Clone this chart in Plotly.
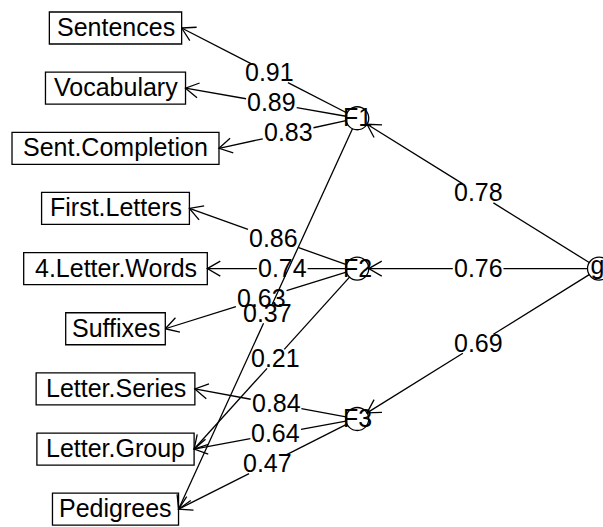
import math
import plotly.graph_objects as go

# ---------------- data ----------------
variables = ["Sentences", "Vocabulary", "Sent.Completion", "First.Letters",
             "4.Letter.Words", "Suffixes", "Letter.Series", "Letter.Group", "Pedigrees"]
factors = ["F1", "F2", "F3"]
general = "g"
g_loadings = [0.78, 0.76, 0.69]
edge_factor = ["F1", "F1", "F1", "F2", "F2", "F2", "F3", "F3", "F3", "F1", "F2"]
edge_variable = ["Sentences", "Vocabulary", "Sent.Completion", "First.Letters",
                 "4.Letter.Words", "Suffixes", "Letter.Series", "Letter.Group",
                 "Pedigrees", "Pedigrees", "Letter.Group"]
edge_loading = [0.91, 0.89, 0.83, 0.86, 0.74, 0.63, 0.84, 0.64, 0.47, 0.37, 0.21]

# ---------------- style / layout ----------------
W, H = 603, 527
FONT = "Liberation Sans, Arial, Helvetica, sans-serif"
FS = 25
LW = 1.3
R = 11.5
BOX_H = 32
HEAD = 15
TEXT_DY = 1

AW = {' ': 278, '.': 278, '0': 556, '1': 556, '2': 556, '3': 556, '4': 556, '5': 556,
      '6': 556, '7': 556, '8': 556, '9': 556, 'A': 667, 'B': 667, 'C': 722, 'D': 722,
      'E': 667, 'F': 611, 'G': 778, 'H': 722, 'I': 278, 'J': 500, 'K': 667, 'L': 556,
      'M': 833, 'N': 722, 'O': 778, 'P': 667, 'Q': 778, 'R': 722, 'S': 667, 'T': 611,
      'U': 722, 'V': 667, 'W': 944, 'X': 667, 'Y': 667, 'Z': 611, 'a': 556, 'b': 556,
      'c': 500, 'd': 556, 'e': 556, 'f': 278, 'g': 556, 'h': 556, 'i': 222, 'j': 222,
      'k': 500, 'l': 222, 'm': 833, 'n': 556, 'o': 556, 'p': 556, 'q': 556, 'r': 333,
      's': 500, 't': 278, 'u': 556, 'v': 500, 'w': 722, 'x': 500, 'y': 500, 'z': 500}


def text_width(s):
    return sum(AW.get(c, 556) for c in s) / 1000.0 * FS


n_var = len(variables)
n_f = len(factors)
ROW0, ROWSTEP = 28.0, 60.15
COL0, COLSTEP = 115.5, 241.75


def row_to_y(u):
    return ROW0 + (n_var - u) * ROWSTEP


var_pos = {v: (COL0, row_to_y(n_var - i)) for i, v in enumerate(variables)}
var_hw = {v: 0.56 * text_width(v) for v in variables}
f_scale = (n_var + 1) / (n_f + 1)
fac_pos = {f: (COL0 + COLSTEP, row_to_y(n_var + 1 - (j + 1) * f_scale))
           for j, f in enumerate(factors)}
g_pos = (COL0 + 2 * COLSTEP, row_to_y((n_var + 1) / 2))

xs, ys = [], []
annotations = []
shapes = []


def add_path(pts):
    for p in pts:
        xs.append(p[0])
        ys.append(p[1])
    xs.append(None)
    ys.append(None)


def unit(a, b):
    dx, dy = b[0] - a[0], b[1] - a[1]
    d = math.hypot(dx, dy)
    return dx / d, dy / d


def add_text(x, y, s):
    annotations.append(dict(x=x, y=y, xref="x", yref="y", text=s, showarrow=False,
                            xanchor="center", yanchor="middle", yshift=TEXT_DY,
                            font=dict(family=FONT, size=FS, color="black")))


def arrow(start, end, lab_c, lab):
    d = unit(start, end)
    hw = text_width(lab) / 2 + 1
    hh = 9.5
    cand = []
    if abs(d[0]) > 1e-9:
        cand.append(hw / abs(d[0]))
    if abs(d[1]) > 1e-9:
        cand.append(hh / abs(d[1]))
    s = min(cand)
    p1 = (lab_c[0] - s * d[0], lab_c[1] - s * d[1])
    p2 = (lab_c[0] + s * d[0], lab_c[1] + s * d[1])
    add_path([start, p1])
    add_path([p2, end])
    bx, by = -d[0], -d[1]
    wings = []
    for ang in (math.radians(30), math.radians(-30)):
        c, sn = math.cos(ang), math.sin(ang)
        wings.append((end[0] + HEAD * (bx * c - by * sn), end[1] + HEAD * (bx * sn + by * c)))
    add_path([wings[0], end, wings[1]])
    add_text(lab_c[0], lab_c[1], lab)


# factor -> variable loadings
for f, v, l in zip(edge_factor, edge_variable, edge_loading):
    fc = fac_pos[f]
    vx, vy = var_pos[v]
    end = (vx + var_hw[v], vy)
    u = unit(fc, end)
    start = (fc[0] + R * u[0], fc[1] + R * u[1])
    mid = ((fc[0] + end[0]) / 2, (fc[1] + end[1]) / 2)
    arrow(start, end, mid, "%.2f" % l)

# g -> factor loadings
for f, l in zip(factors, g_loadings):
    fc = fac_pos[f]
    u = unit(g_pos, fc)
    start = (g_pos[0] + R * u[0], g_pos[1] + R * u[1])
    end = (fc[0] - R * u[0], fc[1] - R * u[1])
    mid = ((fc[0] + g_pos[0]) / 2, (fc[1] + g_pos[1]) / 2)
    arrow(start, end, mid, "%.2f" % l)

# variable boxes
for v in variables:
    x, y = var_pos[v]
    hw = var_hw[v]
    shapes.append(dict(type="rect", xref="x", yref="y", x0=x - hw, x1=x + hw,
                       y0=y - BOX_H / 2, y1=y + BOX_H / 2,
                       line=dict(color="black", width=LW), fillcolor="rgba(0,0,0,0)"))
    add_text(x, y, v)

# factor circles
for f in factors + [general]:
    x, y = fac_pos[f] if f in fac_pos else g_pos
    shapes.append(dict(type="circle", xref="x", yref="y", x0=x - R, x1=x + R,
                       y0=y - R, y1=y + R,
                       line=dict(color="black", width=LW), fillcolor="rgba(0,0,0,0)"))
    if f in fac_pos:
        add_text(x, y, f)

fig = go.Figure()
fig.add_trace(go.Scatter(x=xs, y=ys, mode="lines", hoverinfo="skip",
                         line=dict(color="black", width=LW)))
# general factor label, drawn as a text trace so it is kept near the right edge
fig.add_trace(go.Scatter(x=[g_pos[0] - 1.5], y=[g_pos[1] - 1], mode="text", text=[general],
                         textposition="middle center", cliponaxis=False, hoverinfo="skip",
                         textfont=dict(family=FONT, size=FS, color="black")))
fig.update_layout(
    width=W, height=H, margin=dict(l=0, r=0, t=0, b=0),
    paper_bgcolor="white", plot_bgcolor="white", showlegend=False,
    xaxis=dict(range=[0, W], visible=False, fixedrange=True),
    yaxis=dict(range=[H, 0], visible=False, fixedrange=True),
    shapes=shapes, annotations=annotations,
)
fig.write_html("out.html", config={"displayModeBar": False},
               post_script="document.body.style.margin='0';document.body.style.overflow='hidden';")
